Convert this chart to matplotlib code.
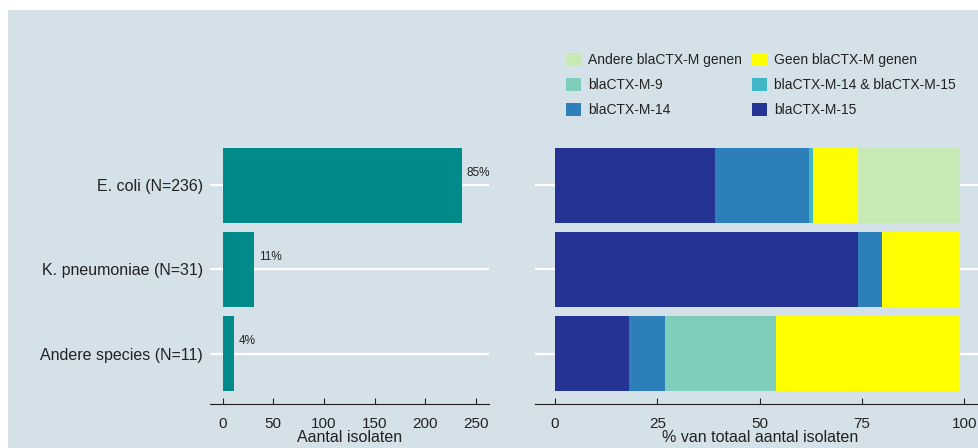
import numpy as np
import matplotlib.pyplot as plt
from matplotlib.patches import Patch, Rectangle

plt.rcParams['font.family'] = ['Liberation Sans', 'DejaVu Sans']

# data
species = ["E. coli (N=236)", "K. pneumoniae (N=31)", "Andere species (N=11)"]
counts = [236, 31, 11]
count_labels = ["85%", "11%", "4%"]

# percentage per gene group (rounded, as in the source)
genes = ["blaCTX-M-15", "blaCTX-M-14", "blaCTX-M-14 & blaCTX-M-15",
         "blaCTX-M-9", "Geen blaCTX-M genen", "Andere blaCTX-M genen"]
gene_colors = ["#253494", "#2c7fb8", "#41b6c4", "#7fcdbb", "#ffff00", "#c7e9b4"]
pct_m15 = [39, 74, 18]
pct_m14 = [23, 6, 9]
pct_m14_15 = [1, 0, 0]
pct_m9 = [0, 0, 27]
pct_geen = [11, 19, 45]
pct_andere = [25, 0, 0]

bg = "#d4e1e9"
txt = "#222222"
W, H = 979, 448

fig = plt.figure(figsize=(W / 100, H / 100), dpi=100, facecolor="white")
fig.patches.append(Rectangle((8 / W, 0), 1, 1 - 10 / H, transform=fig.transFigure,
                             facecolor=bg, edgecolor="none", zorder=-10))

def px_axes(x0, y0, x1, y1):
    return fig.add_axes([x0 / W, 1 - y1 / H, (x1 - x0) / W, (y1 - y0) / H])

ax1 = px_axes(210, 135, 489, 404)
ax2 = px_axes(535, 135, 985, 404)

y = np.arange(len(species))
for ax in (ax1, ax2):
    ax.set_facecolor("none")
    for s in ("top", "right", "left"):
        ax.spines[s].set_visible(False)
    ax.spines["bottom"].set_color(txt)
    ax.spines["bottom"].set_linewidth(0.8)
    ax.set_ylim(len(species) - 0.4, -0.6)
    ax.set_yticks(y)
    ax.tick_params(axis="y", length=0, pad=5, labelsize=11.5, labelcolor=txt)
    ax.tick_params(axis="x", direction="in", length=4, width=0.8, color=txt,
                   pad=9, labelsize=11, labelcolor=txt)
    ax.grid(axis="y", color="white", linewidth=1.7)
    ax.set_axisbelow(True)

# left panel: number of isolates
ax1.barh(y, counts, height=0.9, color="#008b8a")
for yi, c, lab in zip(y, counts, count_labels):
    ax1.annotate(lab, (c, yi), xytext=(3.5, 9), textcoords="offset points",
                 ha="left", va="center", fontsize=8.5, color=txt)
ax1.set_xlim(-12.5, 262.9)
ax1.set_xticks(np.arange(0, 251, 50))
ax1.set_yticklabels(species)
ax1.set_xlabel("Aantal isolaten", fontsize=11.5, color=txt, labelpad=-0.5)

# right panel: stacked percentages
series = [pct_m15, pct_m14, pct_m14_15, pct_m9, pct_geen, pct_andere]
left = np.zeros(len(species))
for vals, col in zip(series, gene_colors):
    ax2.barh(y, vals, left=left, height=0.9, color=col)
    left += np.array(vals)
ax2.set_xlim(-4.9, 105.1)
ax2.set_xticks([0, 25, 50, 75, 100])
ax2.set_yticklabels([])
ax2.set_xlabel("% van totaal aantal isolaten", fontsize=11.5, color=txt, labelpad=-0.5)

# legend, filled column by column
order = [5, 3, 1, 4, 2, 0]
handles = [Patch(facecolor=gene_colors[i], edgecolor="none") for i in order]
labels = [genes[i] for i in order]
fig.legend(handles, labels, ncol=2, loc="upper left",
           bbox_to_anchor=(566 / W, 1 - 53 / H), frameon=False, borderpad=0,
           borderaxespad=0, fontsize=10, handlelength=1.1, handleheight=1.1,
           handletextpad=0.5, columnspacing=0.7, labelspacing=0.75,
           labelcolor=txt)

fig.savefig("out.png", dpi=100, facecolor=fig.get_facecolor())
